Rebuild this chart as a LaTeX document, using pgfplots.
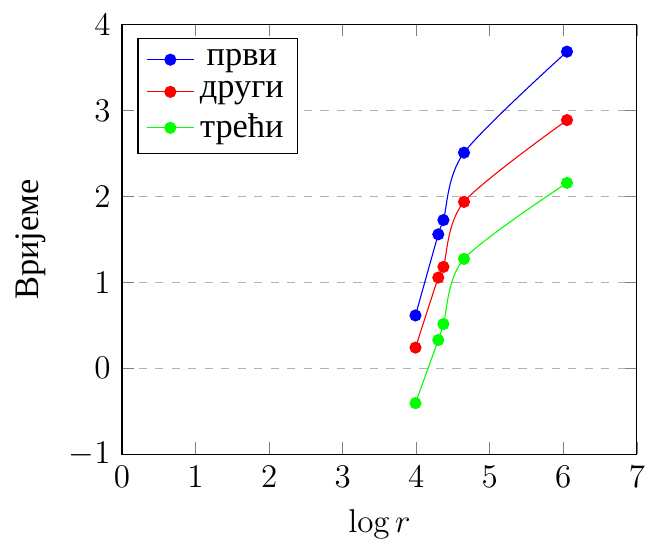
\documentclass[12pt,border={1.8pt -1.1pt -1.8pt 1.1pt}]{standalone}
\usepackage{fontspec}
\newfontfamily\cyr[Scale=1.04]{Liberation Serif}
\usepackage{pgfplots}
\pgfplotsset{compat=1.18}

\begin{document}
\begin{tikzpicture}
\begin{axis}[
  scale only axis,
  width=187pt, height=156pt,
  xmin=0, xmax=7, ymin=-1, ymax=4,
  xtick={0,...,7}, ytick={-1,...,4},
  ymajorgrids,
  major grid style={dashed,gray!60},
  xlabel={$\log r$},
  ylabel={\cyr Вријеме},
  legend pos=north west,
  legend cell align=center,
  legend style={font=\cyr},
]
\addplot[blue,smooth,mark=*] coordinates {
  (3.99,0.615) (4.30,1.559) (4.37,1.725) (4.65,2.51) (6.05,3.686)};
\addlegendentry{први}
\addplot[red,smooth,mark=*] coordinates {
  (3.99,0.240) (4.30,1.056) (4.37,1.18) (4.65,1.937) (6.05,2.889)};
\addlegendentry{други}
\addplot[green,smooth,mark=*] coordinates {
  (3.99,-0.406) (4.30,0.329) (4.37,0.515) (4.65,1.273) (6.05,2.158)};
\addlegendentry{трећи}
\end{axis}
\end{tikzpicture}
\end{document}
